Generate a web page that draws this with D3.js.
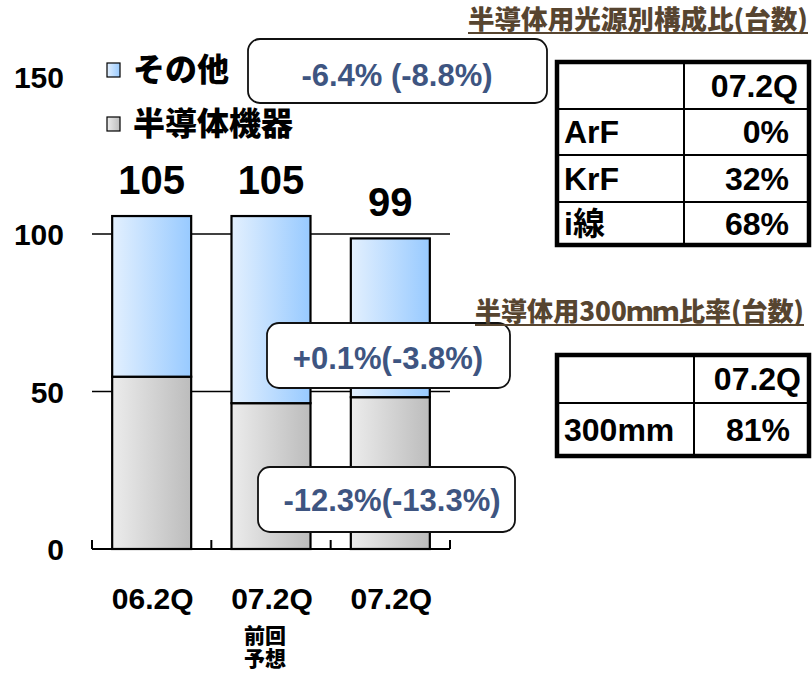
<!DOCTYPE html>
<html><head><meta charset="utf-8">
<script src="https://cdn.jsdelivr.net/npm/d3@7/dist/d3.min.js"></script>
<style>
html,body{margin:0;padding:0;background:#fff;}
svg{display:block;font-family:"Liberation Sans",Arial,"Noto Sans CJK JP",sans-serif;}
</style></head>
<body>
<svg id="c" width="812" height="673"></svg>
<script>
// ---- data ----
const categories = ["06.2Q", "07.2Q", "07.2Q"];
const subLabels = ["", "前回\n予想", ""];
const seriesNames = ["その他", "半導体機器"];
const semiValues = [54.7, 46.3, 48.2];
const otherValues = [51.0, 59.4, 50.4];
const totalLabels = ["105", "105", "99"];
const yTicks = [0, 50, 100, 150];
const gridTicks = [50, 100];
const callouts = ["-6.4% (-8.8%)", "+0.1%(-3.8%)", "-12.3%(-13.3%)"];
const table1Title = "半導体用光源別構成比(台数)";
const table1Header = ["", "07.2Q"];
const table1Rows = [["ArF", "0%"], ["KrF", "32%"], ["i線", "68%"]];
const table2Title = "半導体用300ｍｍ比率(台数)";
const table2Header = ["", "07.2Q"];
const table2Rows = [["300mm", "81%"]];

const svg = d3.select("#c");
const defs = svg.append("defs");
function grad(id, c1, c2) {
  const g = defs.append("linearGradient").attr("id", id).attr("x1", "0").attr("x2", "1").attr("y1", "0").attr("y2", "0");
  g.append("stop").attr("offset", "0").attr("stop-color", c1);
  g.append("stop").attr("offset", "1").attr("stop-color", c2);
}
grad("gBlue", "#e3f0fe", "#98caff");
grad("gGray", "#ececec", "#bcbcbc");

const CJK = "'Noto Sans CJK JP',sans-serif";

// ---- scales ----
const x = d3.scaleBand().domain(d3.range(categories.length)).range([92, 450]).paddingInner(0).paddingOuter(0);
const y = d3.scaleLinear().domain([0, 150]).range([549, 76.5]);
const barW = 79;

// gridlines
svg.append("g").selectAll("line").data(gridTicks).join("line")
  .attr("x1", 92).attr("x2", 450)
  .attr("y1", d => y(d)).attr("y2", d => y(d))
  .attr("stroke", "#000").attr("stroke-width", 1.6);

// y axis labels via d3 axis
const yAxis = svg.append("g").attr("transform", "translate(64,0)")
  .call(d3.axisLeft(y).tickValues(yTicks).tickSize(0).tickPadding(0));
yAxis.select(".domain").remove();
yAxis.selectAll("text").attr("font-size", 30).attr("font-weight", "bold").attr("fill", "#000")
  .attr("font-family", "'Liberation Sans',Arial,sans-serif").attr("dy", "0.36em");

// stacked data
const stackData = categories.map((c, i) => ({ i, semi: semiValues[i], other: otherValues[i] }));
const stack = d3.stack().keys(["semi", "other"])(stackData);
const fills = { semi: "url(#gGray)", other: "url(#gBlue)" };
svg.append("g").selectAll("g").data(stack).join("g")
  .attr("fill", d => fills[d.key])
  .selectAll("rect").data(d => d).join("rect")
  .attr("x", d => x(d.data.i) + (x.bandwidth() - barW) / 2)
  .attr("width", barW)
  .attr("y", d => y(d[1]))
  .attr("height", d => y(d[0]) - y(d[1]))
  .attr("stroke", "#000").attr("stroke-width", 2.2);

// baseline and separators
const base = svg.append("g");
base.append("line").attr("x1", 92).attr("x2", 450).attr("y1", y(0)).attr("y2", y(0))
  .attr("stroke", "#000").attr("stroke-width", 2.2);
const seps = [0, 1, 2].map(i => x(i)).concat([x(2) + x.bandwidth()]);
base.selectAll("line.sep").data(seps).join("line").attr("class", "sep")
  .attr("x1", d => d).attr("x2", d => d).attr("y1", y(0)).attr("y2", y(0) - 9)
  .attr("stroke", "#000").attr("stroke-width", 2);

// total labels
svg.append("g").selectAll("text").data(stackData).join("text")
  .attr("x", d => x(d.i) + x.bandwidth() / 2)
  .attr("y", d => y(d.semi + d.other) - 22)
  .attr("text-anchor", "middle").attr("font-size", 40).attr("font-weight", "bold")
  .text((d, i) => totalLabels[i]);

// x labels
const xl = svg.append("g");
xl.selectAll("text.cat").data(categories).join("text").attr("class", "cat")
  .attr("x", (d, i) => x(i) + x.bandwidth() / 2 + 1)
  .attr("y", 609).attr("text-anchor", "middle")
  .attr("font-size", 30).attr("font-weight", "bold").text(d => d);
subLabels.forEach((s, i) => {
  if (!s) return;
  const cx = x(i) + x.bandwidth() / 2 - 6;
  const t = xl.append("text").attr("text-anchor", "middle").attr("font-size", 21).attr("font-weight", 900)
    .attr("font-family", CJK);
  s.split("\n").forEach((line, k) => {
    t.append("tspan").attr("x", cx).attr("y", 643 + k * 23).text(line);
  });
});

// legend
const leg = svg.append("g");
const legFills = ["url(#gBlue)", "url(#gGray)"];
seriesNames.forEach((n, i) => {
  const yy = 70 + i * 54;
  leg.append("rect").attr("x", 107).attr("y", yy - 7).attr("width", 13).attr("height", 14)
    .attr("fill", legFills[i]).attr("stroke", "#000").attr("stroke-width", 1.2);
  leg.append("text").attr("x", 133).attr("y", yy + 11).attr("font-size", 32).attr("font-weight", 900)
    .attr("font-family", CJK).text(n);
});

// callouts
const boxes = [
  { x: 248, y: 39, w: 299, h: 64, tx: 397, ty: 86 },
  { x: 267, y: 323, w: 243, h: 65, tx: 388, ty: 369 },
  { x: 258, y: 467, w: 257, h: 65, tx: 392, ty: 511 }
];
const cg = svg.append("g");
boxes.forEach((b, i) => {
  cg.append("rect").attr("x", b.x).attr("y", b.y).attr("width", b.w).attr("height", b.h)
    .attr("rx", 12).attr("fill", "#fff").attr("stroke", "#111").attr("stroke-width", 1.8);
  cg.append("text").attr("x", b.tx).attr("y", b.ty).attr("text-anchor", "middle")
    .attr("font-size", 31).attr("font-weight", "bold").attr("fill", "#3e5581").text(callouts[i]);
});

// tables
function title(t, xr, yb, w) {
  svg.append("text").attr("x", xr - w).attr("y", yb).attr("font-size", 26).attr("font-weight", 900)
    .attr("fill", "#574530").attr("textLength", w).attr("lengthAdjust", "spacingAndGlyphs")
    .attr("font-family", CJK).text(t);
  svg.append("line").attr("x1", xr - w).attr("x2", xr).attr("y1", yb + 4).attr("y2", yb + 4)
    .attr("stroke", "#574530").attr("stroke-width", 2);
}
title(table1Title, 808, 29, 340);
title(table2Title, 804, 321, 329);

function table(header, rows, x0, x1, xc, rowYs, headerRight, valRight) {
  const g = svg.append("g");
  const all = [header].concat(rows);
  rowYs.slice(1, -1).forEach(yy => g.append("line").attr("x1", x0).attr("x2", x1).attr("y1", yy).attr("y2", yy)
    .attr("stroke", "#000").attr("stroke-width", 2));
  g.append("line").attr("x1", xc).attr("x2", xc).attr("y1", rowYs[0]).attr("y2", rowYs[rowYs.length - 1])
    .attr("stroke", "#000").attr("stroke-width", 2);
  g.append("rect").attr("x", x0).attr("y", rowYs[0]).attr("width", x1 - x0).attr("height", rowYs[rowYs.length - 1] - rowYs[0])
    .attr("fill", "none").attr("stroke", "#000").attr("stroke-width", 4.5);
  all.forEach((r, i) => {
    const cy = (rowYs[i] + rowYs[i + 1]) / 2 + 11;
    g.append("text").attr("x", x0 + 7).attr("y", cy).attr("font-size", 32).attr("font-weight", "bold").text(r[0]);
    g.append("text").attr("x", i === 0 ? headerRight : valRight).attr("y", cy).attr("text-anchor", "end")
      .attr("font-size", 32).attr("font-weight", "bold").text(r[1]);
  });
}
table(table1Header, table1Rows, 557, 809, 684, [62, 109, 155, 202, 245], 798, 789);
table(table2Header, table2Rows, 557, 809, 694, [355, 403, 456], 801, 790);
</script>
</body></html>
